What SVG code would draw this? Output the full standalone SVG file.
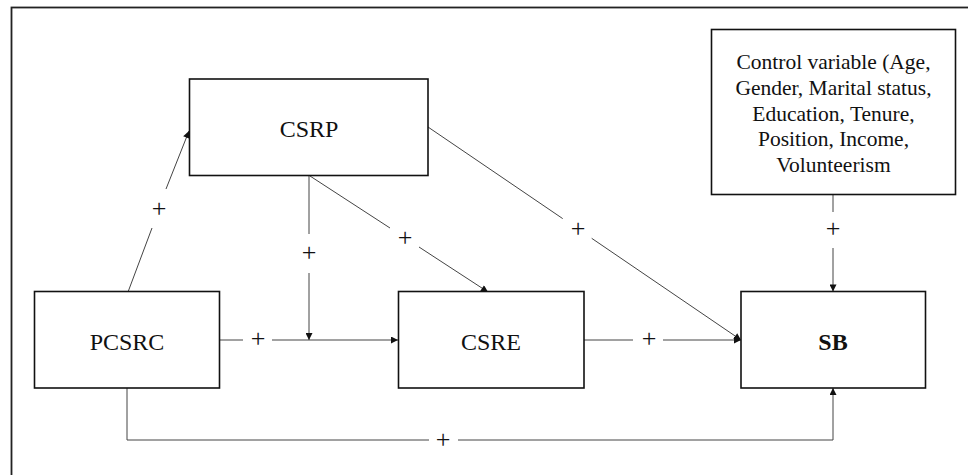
<svg xmlns="http://www.w3.org/2000/svg" width="968" height="475" viewBox="0 0 968 475">
<style>
.box{fill:#fff;stroke:#111;stroke-width:1.6}
.lbl{font-family:"Liberation Serif","Times New Roman",serif;font-size:24px;fill:#111;text-anchor:middle}
.ctl{font-family:"Liberation Serif","Times New Roman",serif;font-size:21.5px;fill:#111;text-anchor:middle}
.plus{font-family:"Liberation Serif","Times New Roman",serif;font-size:26px;fill:#111;text-anchor:middle}
.con{fill:none;stroke:#444;stroke-width:1}
</style>
<defs>
<marker id="arr" viewBox="0 0 10 10" refX="10" refY="5" markerWidth="8" markerHeight="7" markerUnits="userSpaceOnUse" orient="auto">
<path d="M0,0 L10,5 L0,10 Z" fill="#111"/>
</marker>
</defs>
<rect width="968" height="475" fill="#fff"/>
<rect x="11.5" y="7.5" width="980" height="500" fill="none" stroke="#222" stroke-width="1.8"/>

<g id="connectors">
<path class="con" d="M128,292 L152,228 M166,189 L189,131" marker-end="url(#arr)"/>
<path class="con" d="M309,176 L309,234 M309,273 L309,340" marker-end="url(#arr)"/>
<path class="con" d="M310,176 L390,228 M419,247 L488,292" marker-end="url(#arr)"/>
<path class="con" d="M428,127 L562.7,218.6 M591.7,238.3 L741,340" marker-end="url(#arr)"/>
<path class="con" d="M220,340 L243,340 M272,340 L398,340" marker-end="url(#arr)"/>
<path class="con" d="M584,340 L633,340 M663,340 L741,340" marker-end="url(#arr)"/>
<path class="con" d="M833,195 L833,212 M833,248 L833,291.5" marker-end="url(#arr)"/>
<path class="con" d="M127,388 L127,440 L429,440 M458,440 L833,440 L833,388" marker-end="url(#arr)"/>
<text class="plus" x="159" y="216.5">+</text>
<text class="plus" x="309" y="261">+</text>
<text class="plus" x="405" y="245.5">+</text>
<text class="plus" x="578" y="237">+</text>
<text class="plus" x="258" y="346.5">+</text>
<text class="plus" x="649" y="346.5">+</text>
<text class="plus" x="833" y="236.5">+</text>
<text class="plus" x="443" y="447.5">+</text>
</g>

<g id="CSRP">
<rect class="box" x="189.5" y="79" width="238.5" height="96.5"/>
<text class="lbl" x="309" y="137">CSRP</text>
</g>
<g id="Control">
<rect class="box" x="711.5" y="29.5" width="244" height="165"/>
<text class="ctl" x="833.5" y="69">Control variable (Age,</text>
<text class="ctl" x="833.5" y="95">Gender, Marital status,</text>
<text class="ctl" x="833.5" y="120.5">Education, Tenure,</text>
<text class="ctl" x="833.5" y="146">Position, Income,</text>
<text class="ctl" x="833.5" y="171.5">Volunteerism</text>
</g>
<g id="PCSRC">
<rect class="box" x="34.5" y="291.5" width="185" height="96.5"/>
<text class="lbl" x="127" y="350">PCSRC</text>
</g>
<g id="CSRE">
<rect class="box" x="398.5" y="291.5" width="185.5" height="96.5"/>
<text class="lbl" x="491" y="350">CSRE</text>
</g>
<g id="SB">
<rect class="box" x="741" y="291.5" width="184.5" height="96.5"/>
<text class="lbl" x="833" y="350" font-weight="bold">SB</text>
</g>
</svg>
